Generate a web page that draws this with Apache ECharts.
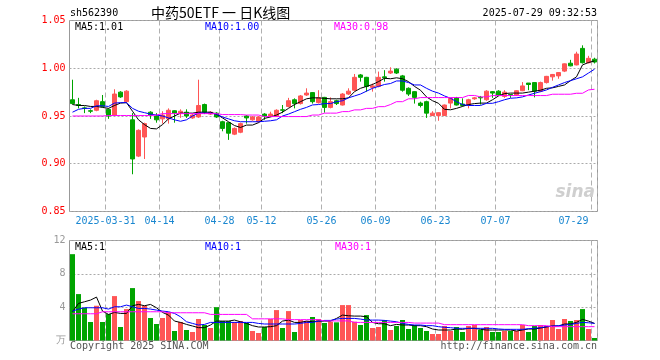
<!DOCTYPE html>
<html><head><meta charset="utf-8">
<script src="https://cdn.jsdelivr.net/npm/echarts@6/dist/echarts.min.js"></script>
<style>html,body{margin:0;padding:0;background:#fff}#c{width:660px;height:360px}</style>
</head><body><div id="c"></div>
<script>
const dates = ['2025-03-21','2025-03-24','2025-03-25','2025-03-26','2025-03-27','2025-03-28','2025-03-31','2025-04-01','2025-04-02','2025-04-03','2025-04-07','2025-04-08','2025-04-09','2025-04-10','2025-04-11','2025-04-14','2025-04-15','2025-04-16','2025-04-17','2025-04-18','2025-04-21','2025-04-22','2025-04-23','2025-04-24','2025-04-25','2025-04-28','2025-04-29','2025-04-30','2025-05-06','2025-05-07','2025-05-08','2025-05-09','2025-05-12','2025-05-13','2025-05-14','2025-05-15','2025-05-16','2025-05-19','2025-05-20','2025-05-21','2025-05-22','2025-05-23','2025-05-26','2025-05-27','2025-05-28','2025-05-29','2025-05-30','2025-06-03','2025-06-04','2025-06-05','2025-06-06','2025-06-09','2025-06-10','2025-06-11','2025-06-12','2025-06-13','2025-06-16','2025-06-17','2025-06-18','2025-06-19','2025-06-20','2025-06-23','2025-06-24','2025-06-25','2025-06-26','2025-06-27','2025-06-30','2025-07-01','2025-07-02','2025-07-03','2025-07-04','2025-07-07','2025-07-08','2025-07-09','2025-07-10','2025-07-11','2025-07-14','2025-07-15','2025-07-16','2025-07-17','2025-07-18','2025-07-21','2025-07-22','2025-07-23','2025-07-24','2025-07-25','2025-07-28','2025-07-29'];
const tickDates = ['2025-03-31','2025-04-14','2025-04-28','2025-05-12','2025-05-26','2025-06-09','2025-06-23','2025-07-07','2025-07-29'];
const tickLabels = ['2025-03-31','04-14','04-28','05-12','05-26','06-09','06-23','07-07','07-29'];

const opens = [.967,.962,.9585,.9555,.956,.965,.957,.951,.975,.965, .946,.908,.928,.954,.950,.947,.947,.9555,.953,.954, .948,.949,.962,.952,.953,.944,.943,.931,.933,.950, .946,.944,.952,.950,.950,.9565,.960,.967,.963,.972, .9745,.964,.9695,.959,.966,.9615,.973,.977,.993,.9905, .980,.981,.991,.995,.999,.992,.979,.9755,.9635,.965, .9505,.9505,.9505,.9635,.969,.9625,.9615,.968,.9695,.967, .9755,.976,.9705,.9725,.972,.9765,.9845,.985,.976,.985, .991,.992,.997,1.0053,1.0035,1.0208,1.0058,1.0095];
const closes = [.963,.961,.958,.955,.966,.960,.950,.973,.970,.976, .905,.935,.942,.951,.946,.951,.956,.953,.955,.950, .951,.961,.954,.954,.949,.937,.932,.937,.942,.948, .949,.949,.950,.952,.956,.956,.966,.963,.971,.974, .965,.969,.959,.965,.963,.973,.976,.9905,.9905,.981, .9815,.9905,.990,.997,.995,.977,.973,.9695,.961,.953, .953,.9535,.9615,.9685,.9615,.961,.967,.969,.969,.976, .974,.972,.975,.972,.9765,.9815,.983,.976,.985,.9915, .9935,.9955,1.0046,1.0025,1.0149,1.0058,1.0104,1.0065];
const lows = [.962,.958,.953,.953,.955,.959,.947,.950,.969,.964, .889,.907,.905,.947,.943,.942,.942,.943,.948,.948, .947,.948,.952,.951,.948,.934,.925,.930,.932,.942, .945,.943,.946,.949,.949,.953,.959,.958,.962,.971, .963,.963,.9535,.958,.9615,.961,.972,.976,.986,.9755, .9755,.980,.986,.994,.994,.9755,.971,.963,.959,.948, .950,.945,.950,.958,.961,.960,.958,.967,.962,.966, .969,.971,.969,.969,.971,.976,.977,.9695,.975,.984, .987,.989,.996,1.002,1.003,1.005,1.005,1.005];
const highs = [.988,.969,.960,.957,.967,.972,.958,.978,.976,.977, .953,.936,.943,.955,.953,.955,.958,.956,.957,.957, .952,.988,.963,.955,.954,.945,.943,.938,.943,.951, .950,.950,.953,.9545,.957,.9615,.969,.9685,.972,.979, .975,.977,.970,.9695,.967,.974,.979,.994,.994,.991, .984,.9965,.998,1.001,1.000,.993,.980,.976,.965,.966, .955,.954,.962,.969,.970,.9685,.968,.970,.971,.977, .976,.977,.977,.973,.977,.9855,.9845,.985,.986,.992, .994,.996,1.005,1.0088,1.0173,1.024,1.013,1.011];

const ma5 = [.962,.961,.961,.960,.960,.959,.958,.961,.9635,.964, .955,.946,.941,.937,.9365,.941,.947,.950,.953,.953, .953,.954,.954,.954,.952,.948,.944,.940,.938,.9405, .9405,.943,.9475,.949,.951,.954,.958,.962,.965,.968, .969,.969,.9685,.968,.968,.968,.969,.9755,.979,.981, .983,.986,.9895,.989,.990,.989,.986,.981,.977,.970, .966,.9633,.957,.9565,.958,.960,.962,.963,.9635,.9635, .967,.971,.9735,.974,.974,.974,.975,.976,.977,.979, .9795,.981,.9825,.987,.991,1.0035,1.006,1.0077];
const ma10 = [.954,.957,.958,.958,.9607,.9607,.960,.9635,.964,.964, .958,.955,.9535,.952,.951,.950,.948,.946,.9445,.946, .950,.953,.953,.953,.952,.949,.947,.945,.944,.944, .944,.944,.9445,.945,.946,.950,.952,.9545,.957,.959, .9616,.962,.963,.963,.965,.966,.969,.971,.973,.976, .979,.981,.983,.984,.9867,.9867,.985,.9825,.9825,.979, .976,.974,.971,.9686,.965,.962,.961,.961,.961,.9633, .9633,.965,.967,.9686,.969,.970,.972,.9738,.9755,.9773, .980,.9825,.985,.987,.989,.991,.995,.999];
const ma30 = [.950,.950,.950,.950,.950,.950,.9505,.9505,.9505,.9505, .9505,.9505,.9505,.9505,.951,.9525,.9525,.9525,.9525,.9525, .9525,.9525,.9525,.9525,.9525,.9515,.9515,.9515,.9515,.951, .951,.951,.9494,.9494,.9494,.9494,.9494,.9494,.9494,.9494, .951,.951,.953,.953,.953,.9546,.9546,.9564,.9564,.958, .958,.9598,.9598,.962,.965,.965,.968,.968,.9693,.9693, .9693,.9693,.9693,.9693,.9693,.9693,.9715,.9715,.970,.970, .9714,.9714,.9714,.9714,.9714,.9714,.9714,.9714,.9714,.9714, .9728,.9728,.9728,.9728,.9738,.9738,.9773,.978];

const volumes = [10.36,5.57,3.93,2.22,4.17,2.22,3.17,5.33,1.62,3.77, 6.29,4.73,4.17,2.70,1.98,2.70,3.38,1.14,2.22,1.26, 1.02,2.58,1.86,1.5,4.0,2.34,2.34,2.22,2.34,2.10, 1.14,0.9,1.62,2.58,3.65,1.5,3.53,1.02,2.46,2.34, 2.82,2.58,2.10,2.26,2.18,4.25,4.25,2.26,1.86,3.05, 1.5,1.62,2.46,1.26,1.74,2.46,1.38,1.86,1.5,1.14, 0.78,0.78,1.74,1.14,1.62,1.02,1.74,1.86,1.26,1.62, 1.02,1.02,1.14,1.14,1.14,1.86,1.02,1.74,1.86,1.74, 2.46,1.38,2.58,2.34,2.46,3.77,1.38,0.3];
const volMa5 = [3.45,4.45,4.65,4.85,5.21,3.53,3.13,3.37,3.25,3.25, 4.17,4.33,4.17,4.33,3.93,3.37,3.05,2.33,2.17,1.93, 1.74,1.54,1.54,1.86,2.33,2.33,2.33,2.45,2.25,2.05, 1.78,1.62,1.62,1.66,1.78,2.33,2.45,2.17,2.17,2.33, 2.25,2.33,2.33,2.33,2.65,3.05,2.97,2.93,2.93,2.85, 2.17,2.01,2.01,1.78,1.93,1.86,1.86,1.78,1.78,1.66, 1.38,1.26,1.26,1.26,1.38,1.34,1.46,1.46,1.34,1.26, 1.26,1.26,1.26,1.26,1.14,1.26,1.38,1.38,1.50,1.62, 1.74,1.74,1.98,1.98,2.17,2.53,2.33,2.05];
const volMa10 = [3.53,3.77,3.93,3.93,3.93,3.93,3.77,4.05,4.05,4.25, 4.05,3.85,3.85,3.77,3.65,3.53,3.45,3.25,2.85,2.25, 2.05,1.86,1.93,2.17,2.17,2.17,2.17,2.17,2.17,2.17, 2.17,2.05,1.98,1.98,1.98,1.98,1.98,1.98,2.05,2.17, 2.17,2.33,2.41,2.41,2.57,2.65,2.65,2.65,2.57,2.45, 2.45,2.45,2.41,2.33,2.25,2.05,1.93,1.86,1.86,1.78, 1.78,1.66,1.58,1.54,1.46,1.46,1.46,1.46,1.46,1.46, 1.46,1.38,1.34,1.34,1.34,1.34,1.42,1.46,1.54,1.66, 1.74,1.78,1.86,1.93,2.05,2.17,2.13,2.05];
const volMa30 = [3.21,3.21,3.21,3.21,3.21,3.45,3.45,3.45,3.45,3.45, 3.45,3.45,3.45,3.45,3.45,3.45,3.33,3.33,3.33,3.33, 3.33,3.33,3.33,3.13,3.13,3.13,3.13,3.13,3.13,3.13, 2.6,2.6,2.6,2.6,2.6,2.6,2.5,2.5,2.5,2.5, 2.5,2.5,2.35,2.35,2.35,2.35,2.35,2.17,2.17,2.17, 2.17,2.17,2.17,2.17,2.17,2.17,2.17,2.09,2.09,2.09, 2.09,2.09,1.9,1.9,1.9,1.9,1.9,1.9,1.9,1.9, 1.9,1.9,1.9,1.9,1.9,1.9,1.78,1.78,1.78,1.78, 1.66,1.66,1.66,1.66,1.66,1.66,1.66,1.66];

const priceTicks = {min: 0.85, max: 1.05, step: 0.05};
const volTicks = {min: 0, max: 12, step: 4};

const UP = '#ff5555', DOWN = '#00a400';
const MONO = '"DejaVu Sans Mono", "Liberation Mono", monospace';
const candleData = dates.map((d, i) => [opens[i], closes[i], lows[i], highs[i]]);
const volData = volumes.map((v, i) => ({value: v, itemStyle: {color: closes[i] >= opens[i] ? UP : DOWN}}));
const tickIdx = new Set(tickDates.map(d => dates.indexOf(d)));
const labelOf = {};
tickDates.forEach((d, i) => { labelOf[d] = tickLabels[i]; });

const splitX = {show: true, interval: (i) => tickIdx.has(i), lineStyle: {color: '#b0b0b0', type: [5, 3], width: 1}};
const lineS = (data, color, xi) => ({type: 'line', xAxisIndex: xi, yAxisIndex: xi, data: data, symbol: 'none', silent: true, z: 4,
  lineStyle: {color: color, width: 1}});

const chart = echarts.init(document.getElementById('c'), null, {renderer: 'canvas'});
chart.setOption({
  animation: false,
  backgroundColor: '#fff',
  grid: [
    {left: 69.5, top: 20.5, width: 528, height: 191, show: true, borderColor: '#999', borderWidth: 1},
    {left: 69.5, top: 240.5, width: 528, height: 100, show: true, borderColor: '#999', borderWidth: 1}
  ],
  xAxis: [
    {type: 'category', gridIndex: 0, data: dates, boundaryGap: true,
     axisLine: {show: false}, axisTick: {show: false},
     axisLabel: {interval: (i) => tickIdx.has(i), formatter: (v) => labelOf[v] || '', color: '#1a87d0',
       fontFamily: MONO, fontSize: 10, margin: 5, padding: [0, 6, 0, 0], alignMaxLabel: 'right', showMaxLabel: true},
     splitLine: splitX},
    {type: 'category', gridIndex: 1, data: dates, boundaryGap: true,
     axisLine: {show: false}, axisTick: {show: false}, axisLabel: {show: false},
     splitLine: splitX}
  ],
  yAxis: [
    {type: 'value', gridIndex: 0, min: priceTicks.min, max: priceTicks.max, interval: priceTicks.step,
     axisLine: {show: false}, axisTick: {show: false},
     axisLabel: {color: '#ff0000', fontFamily: MONO, fontSize: 10, margin: 4, formatter: (v) => v.toFixed(2)},
     splitLine: {lineStyle: {color: '#aaa', type: [2, 2]}}},
    {type: 'value', gridIndex: 1, min: volTicks.min, max: volTicks.max, interval: volTicks.step,
     axisLine: {show: false}, axisTick: {show: false},
     axisLabel: {color: '#999', fontFamily: MONO, fontSize: 10, margin: 4, formatter: (v) => v === 0 ? '万' : String(v)},
     splitLine: {lineStyle: {color: '#aaa', type: [2, 2]}}}
  ],
  series: [
    {type: 'candlestick', xAxisIndex: 0, yAxisIndex: 0, data: candleData, barWidth: 4, z: 3,
     itemStyle: {color: UP, color0: DOWN, borderColor: UP, borderColor0: DOWN, borderWidth: 1}},
    lineS(ma5, '#000000', 0), lineS(ma10, '#0000ff', 0), lineS(ma30, '#ff00ff', 0),
    {type: 'bar', xAxisIndex: 1, yAxisIndex: 1, data: volData, barWidth: 5, z: 3},
    lineS(volMa5, '#000000', 1), lineS(volMa10, '#0000ff', 1), lineS(volMa30, '#ff00ff', 1)
  ],
  graphic: [
    {type: 'text', x: 70, y: 13, style: {text: 'sh562390', font: '10px ' + MONO, fill: '#000', textVerticalAlign: 'middle'}},
    {type: 'text', x: 151, y: 13, style: {text: '中药50ETF 一 日K线图', font: '14px "Noto Sans CJK SC"', fill: '#000', textVerticalAlign: 'middle'}},
    {type: 'text', x: 597, y: 13, style: {text: '2025-07-29 09:32:53', font: '10px ' + MONO, fill: '#000', textAlign: 'right', textVerticalAlign: 'middle'}},
    {type: 'text', x: 75, y: 27, z: 10, style: {text: 'MA5:1.01', font: '10px ' + MONO, fill: '#000', textVerticalAlign: 'middle'}},
    {type: 'text', x: 205, y: 27, z: 10, style: {text: 'MA10:1.00', font: '10px ' + MONO, fill: '#0000ff', textVerticalAlign: 'middle'}},
    {type: 'text', x: 334, y: 27, z: 10, style: {text: 'MA30:0.98', font: '10px ' + MONO, fill: '#ff00ff', textVerticalAlign: 'middle'}},
    {type: 'text', x: 75, y: 247, z: 10, style: {text: 'MA5:1', font: '10px ' + MONO, fill: '#000', textVerticalAlign: 'middle'}},
    {type: 'text', x: 205, y: 247, z: 10, style: {text: 'MA10:1', font: '10px ' + MONO, fill: '#0000ff', textVerticalAlign: 'middle'}},
    {type: 'text', x: 335, y: 247, z: 10, style: {text: 'MA30:1', font: '10px ' + MONO, fill: '#ff00ff', textVerticalAlign: 'middle'}},
    {type: 'text', x: 70, y: 346, style: {text: 'Copyright 2025 SINA.COM', font: '10px ' + MONO, fill: '#555', textVerticalAlign: 'middle'}},
    {type: 'text', x: 597, y: 346, style: {text: 'http://finance.sina.com.cn', font: '10px ' + MONO, fill: '#555', textAlign: 'right', textVerticalAlign: 'middle'}},
    {type: 'text', x: 595, y: 193, z: 1, style: {text: 'sina', font: 'italic bold 17px "DejaVu Sans"', fill: '#cfcfcf', textAlign: 'right', textVerticalAlign: 'middle'}}
  ]
});
</script></body></html>
